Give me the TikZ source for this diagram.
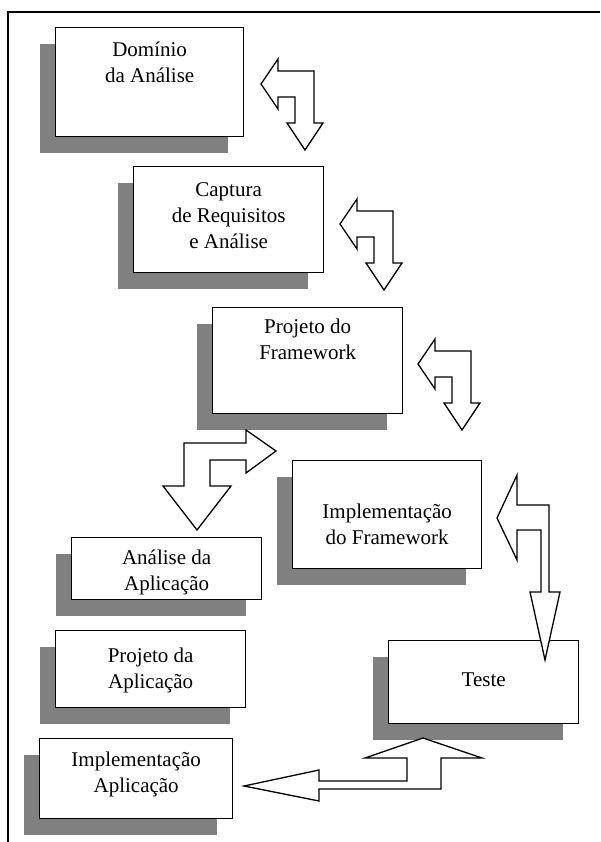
\documentclass[tikz,border=0pt]{standalone}
\usepackage{fontspec}
\setmainfont{Liberation Serif}
\usetikzlibrary{positioning,shadows}
\definecolor{shadowgray}{HTML}{808080}

\begin{document}
\begin{tikzpicture}[x=1pt,y=-1pt]
        \tikzset{phase/.style={draw,line width=1.3pt,fill=white,anchor=north west,
                general shadow={fill=shadowgray,draw=none,shadow xshift=-16pt,shadow yshift=-16pt}},
            caption/.style={align=center,inner sep=0pt,anchor=base,
                font=\fontsize{21}{26}\selectfont},
            blockarrow/.style={draw,line width=1.3pt,fill=white,line join=miter},
            leftdown/.pic={\draw[blockarrow] (0,0) -- (17,-25) -- (17,-13) -- (53,-13)
                -- (53,39) -- (62,39) -- (44,66) -- (26,39) -- (34,39) -- (34,13)
                -- (17,13) -- (17,25) -- cycle;}}
        \useasboundingbox (0,0) rectangle (600,842);
        % frame
        \draw[line width=2pt] (8,842) -- (8,12) -- (600,12);
        % phases
        \node[phase,minimum width=188,minimum height=109] (dom) at (55,27) {};
        \node[phase,minimum width=190,minimum height=106] (req) at (133,166) {};
        \node[phase,minimum width=190,minimum height=106] (prj) at (212,307) {};
        \node[phase,minimum width=189,minimum height=108] (imp) at (292,460) {};
        \node[phase,minimum width=190,minimum height=62] (ana) at (71,537) {};
        \node[phase,minimum width=190,minimum height=77] (pap) at (55,630) {};
        \node[phase,minimum width=193,minimum height=80] (iap) at (39,738) {};
        \node[phase,minimum width=190,minimum height=83] (tst) at (388,640) {};
        % texts (base = last line)
        \node[caption] (dom-t) at ([yshift=-56pt]dom.north) {Domínio\\da Análise};
        \node[caption] (req-t) at ([yshift=-82pt]req.north) {Captura\\de Requisitos\\e Análise};
        \node[caption] (prj-t) at ([yshift=-52pt]prj.north) {Projeto do\\Framework};
        \node[caption] (imp-t) at ([yshift=-84pt]imp.north) {Implementação\\do Framework};
        \node[caption] (ana-t) at ([yshift=-53pt]ana.north) {Análise da\\Aplicação};
        \node[caption] (pap-t) at ([yshift=-58pt]pap.north) {Projeto da\\Aplicação};
        \node[caption] (iap-t) at ([yshift=-54pt]iap.north) {Implementação\\Aplicação};
        \node[caption] (tst-t) at ([yshift=-46pt]tst.north) {Teste};
        % arrows
        \pic at (261,84) {leftdown};
        \pic at (340,224) {leftdown};
        \pic at (418,364) {leftdown};
        \draw[blockarrow] (276,451) -- (246,430) -- (246,443) -- (184,443) -- (184,486)
            -- (163,486) -- (197,530) -- (231,486) -- (210,486) -- (210,460)
            -- (246,460) -- (246,473) -- cycle;
        \draw[blockarrow] (497,518) -- (517,475) -- (517,505) -- (549,505) -- (549,592)
            -- (560,592) -- (545,660) -- (530,592) -- (541,592) -- (541,530)
            -- (517,530) -- (517,560) -- cycle;
        \draw[blockarrow] (423,738) -- (482,758) -- (441,758) -- (441,789) -- (319,789)
            -- (319,801) -- (244,786) -- (319,770) -- (319,781) -- (407,781)
            -- (407,758) -- (365,758) -- cycle;
\end{tikzpicture}
\end{document}
